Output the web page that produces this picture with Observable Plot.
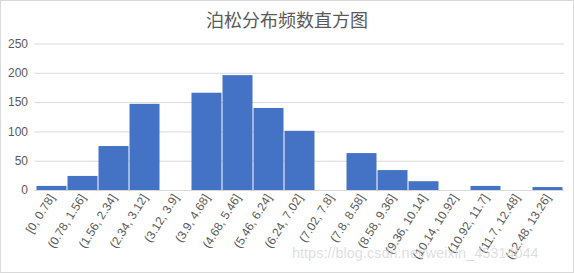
<!DOCTYPE html>
<html><head><meta charset="utf-8">
<script src="https://cdn.jsdelivr.net/npm/d3@7"></script>
<script src="https://cdn.jsdelivr.net/npm/@observablehq/plot@0.6"></script>
<style>
body{margin:0;background:#fff;}
#wrap{position:relative;width:574px;height:273px;overflow:hidden;}
#frame{position:absolute;left:0;top:0;width:572px;height:271px;border:1px solid #d9d9d9;pointer-events:none;}
#title{position:absolute;left:0;top:6px;width:574px;text-align:center;font-family:"Noto Sans CJK SC",sans-serif;font-size:18px;color:#595959;}
</style></head>
<body><div id="wrap"><div id="title">泊松分布频数直方图</div><div id="frame"></div></div>
<script>
const categories = ["[0, 0.78]","(0.78, 1.56]","(1.56, 2.34]","(2.34, 3.12]","(3.12, 3.9]","(3.9, 4.68]","(4.68, 5.46]","(5.46, 6.24]","(6.24, 7.02]","(7.02, 7.8]","(7.8, 8.58]","(8.58, 9.36]","(9.36, 10.14]","(10.14, 10.92]","(10.92, 11.7]","(11.7, 12.48]","(12.48, 13.26]"];
const counts = [7, 24, 75, 147, 0, 166, 196, 140, 101, 0, 63, 34, 15, 0, 7, 0, 5];
const yTicks = [0, 50, 100, 150, 200, 250];
const watermark = ["https://blog.csdn.net/weixin_45314044"];

const data = categories.map((c, i) => ({c, v: counts[i]}));
const chart = Plot.plot({
  width: 574, height: 273,
  marginLeft: 34.5, marginRight: 10, marginTop: 43.5, marginBottom: 83,
  style: {fontFamily: "'Liberation Sans', Arial, sans-serif", fontSize: "12px", color: "#595959", background: "transparent"},
  x: {domain: categories, padding: 0, label: null, tickSize: 0, tickPadding: 5, tickRotate: -58},
  y: {domain: [0, 250], ticks: yTicks, label: null, tickSize: 0, tickPadding: 7},
  marks: [
    Plot.gridY(yTicks, {stroke: "#d9d9d9", strokeOpacity: 1}),
    Plot.barY(data, {x: "c", y: "v", fill: "#4472C4", insetLeft: 0.5, insetRight: 0.5}),
    Plot.ruleY([0], {stroke: "#d9d9d9"}),
    Plot.text(watermark, {x: () => categories[9], y: () => 0, text: d => d, dx: -39, dy: 63, textAnchor: "start", fill: "#d0d0d0", fillOpacity: 0.7, fontSize: 14.5})
  ]
});
document.getElementById("wrap").prepend(chart);
</script></body></html>
